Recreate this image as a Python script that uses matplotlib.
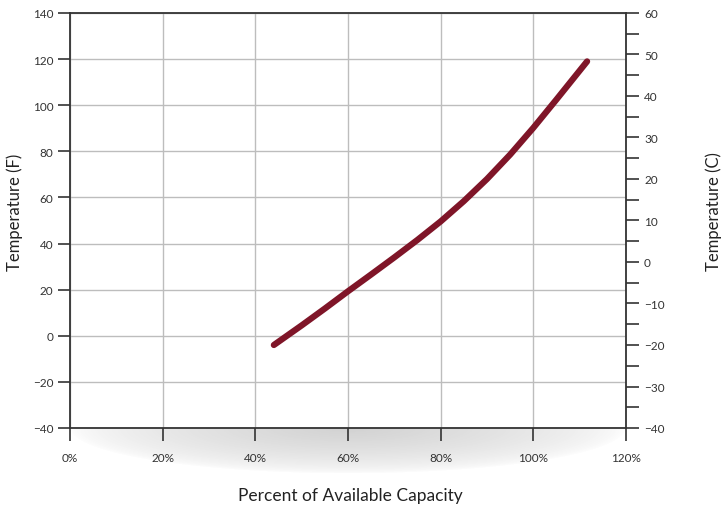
import numpy as np
import matplotlib
matplotlib.use("Agg")
import matplotlib.pyplot as plt
from matplotlib.ticker import MultipleLocator, FuncFormatter

# values
pct_capacity = [44, 50, 55, 60, 65, 70, 75, 80, 85, 90, 95, 100, 105, 110, 111.6]
temp_f = [-4, 4.5, 11.8, 19.3, 26.6, 34.0, 41.6, 49.6, 58.4, 68, 78.6, 90.2, 102.5, 115, 119]

x_ticks = [0, 20, 40, 60, 80, 100, 120]
f_ticks = [-40, -20, 0, 20, 40, 60, 80, 100, 120, 140]
c_ticks = [-40, -30, -20, -10, 0, 10, 20, 30, 40, 50, 60]

line_color = "#7f1528"
dark = "#333333"
label_font = ["Liberation Sans Narrow", "Lato", "DejaVu Sans"]
tick_font = ["Lato", "DejaVu Sans"]

W, H = 726, 510
fig = plt.figure(figsize=(W / 100, H / 100), dpi=100)
L, R, T, B = 70, 626, 14, 429
ax = fig.add_axes([L / W, 1 - B / H, (R - L) / W, (B - T) / H])

# soft shadow under the x axis
sh_w, sh_h = R - L, 46
xx, yy = np.meshgrid(np.linspace(-1, 1, sh_w), np.linspace(0, 1, sh_h))
d = np.sqrt(xx ** 2 + yy ** 2)
a = np.clip(1 - d, 0, 1) ** 0.6 * 0.32
img = np.ones((sh_h, sh_w, 4)) * 0.45
img[..., 3] = a
img = img[::-1]  # figimage origin is bottom-left
fig.figimage(img, xo=L, yo=H - B - sh_h, origin="lower", zorder=-1)

ax.plot(pct_capacity, temp_f, color=line_color, lw=4.5, solid_capstyle="round",
        solid_joinstyle="round", zorder=3)

ax.set_xlim(0, 120)
ax.set_ylim(-40, 140)
ax.set_xticks(x_ticks)
ax.set_yticks(f_ticks)
ax.xaxis.set_major_formatter(FuncFormatter(lambda v, p: f"{v:.0f}%"))
ax.grid(True, color="#bdbdbd", lw=1)
ax.set_axisbelow(True)

for s in ax.spines.values():
    s.set_color(dark)
    s.set_linewidth(1.3)
ax.spines["right"].set_visible(False)

ax.tick_params(axis="both", direction="out", length=9, width=1.2, color=dark,
               labelsize=8.5, labelcolor="#333333")
ax.tick_params(axis="x", pad=8)
ax.tick_params(axis="y", pad=3)
for t in ax.get_xticklabels() + ax.get_yticklabels():
    t.set_family(tick_font)

ax2 = ax.twinx()
ax2.set_ylim(-40, 60)
ax2.set_yticks(c_ticks)
ax2.yaxis.set_minor_locator(MultipleLocator(5))
for k, s in ax2.spines.items():
    s.set_visible(k == "right")
ax2.spines["right"].set_color(dark)
ax2.spines["right"].set_linewidth(1.3)
ax2.tick_params(axis="y", which="both", direction="out", length=9, width=1.2, color=dark,
                labelsize=8.5, labelcolor="#333333", pad=4)
for t in ax2.get_yticklabels():
    t.set_family(tick_font)

fig.text(15 / W, 1 - 212 / H, "Temperature (F)", rotation=90, ha="center", va="center",
         fontsize=12, family=label_font, color="#222222")
fig.text(714 / W, 1 - 212 / H, "Temperature (C)", rotation=90, ha="center", va="center",
         fontsize=12, family=label_font, color="#222222")
fig.text(350 / W, 1 - 496 / H, "Percent of Available Capacity", ha="center", va="center",
         fontsize=12.5, family=label_font, color="#222222")

fig.savefig("out.png", dpi=100)
